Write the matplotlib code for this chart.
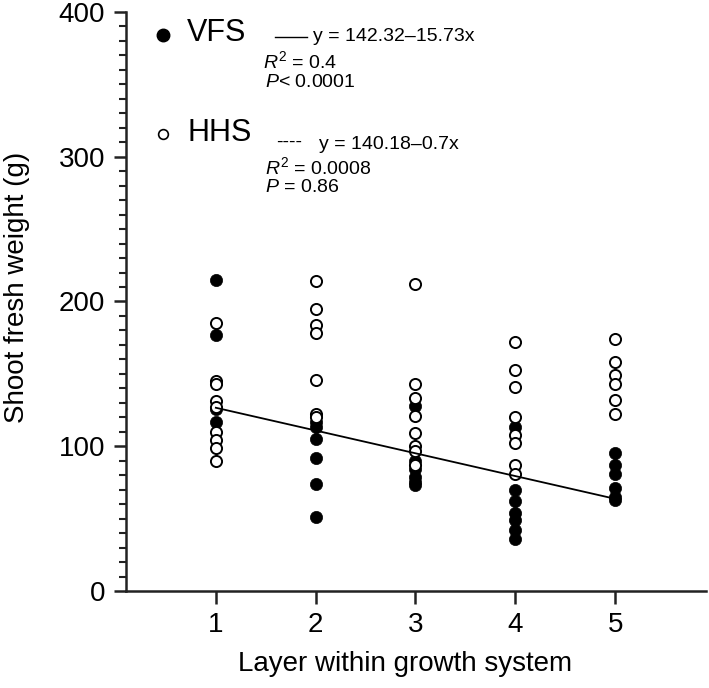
import numpy as np
import matplotlib.pyplot as plt
from matplotlib.ticker import MultipleLocator

plt.rcParams['font.family'] = ['Liberation Sans', 'DejaVu Sans']
plt.rcParams['mathtext.fontset'] = 'custom'
plt.rcParams['mathtext.rm'] = 'Liberation Sans'
plt.rcParams['mathtext.it'] = 'Liberation Sans:italic'

# данные: слой -> масса побегов (г)
layers = [1, 2, 3, 4, 5]
vfs_weights = [
    [215, 177, 126, 117],
    [117, 113, 105, 92, 74, 51],
    [128, 90, 84, 79, 75, 73],
    [113, 70, 62, 54, 49, 42, 36],
    [95, 87, 81, 71, 65, 63],
]
hhs_weights = [
    [185, 145, 143, 131, 127, 110, 104, 99, 90],
    [214, 195, 184, 178, 146, 122, 120],
    [212, 143, 133, 121, 109, 100, 97, 87],
    [172, 153, 141, 120, 108, 102, 87, 81],
    [174, 158, 149, 143, 132, 122],
]
vfs_fit = (142.32, -15.73)

fig = plt.figure(figsize=(7.09, 6.88), dpi=100)
ax = fig.add_axes([0.1777, 0.141, 0.818, 0.8416])

for lay, w in zip(layers, vfs_weights):
    ax.plot([lay] * len(w), w, 'o', ms=8.8, mfc='black', mec='black', mew=0.5, zorder=2)
for lay, w in zip(layers, hhs_weights):
    ax.plot([lay] * len(w), w, 'o', ms=8, mfc='white', mec='black', mew=1.4, zorder=3)

xf = np.array([layers[0], layers[-1]])
ax.plot(xf, vfs_fit[0] + vfs_fit[1] * xf, color='black', lw=1.3, zorder=4)

ax.set_xlim(0.1, 5.91)
ax.set_ylim(0, 400)
ax.set_xticks(layers)
ax.set_yticks([0, 100, 200, 300, 400])
ax.yaxis.set_minor_locator(MultipleLocator(10))
ax.spines['top'].set_visible(False)
ax.spines['right'].set_visible(False)
for s in ('left', 'bottom'):
    ax.spines[s].set_linewidth(1.8)
    ax.spines[s].set_color('#222222')
ax.tick_params(axis='both', which='major', labelsize=20, width=1.8, length=9, color='#222222', pad=6)
ax.tick_params(axis='y', which='minor', width=1.5, length=5, color='#222222')
ax.set_xlabel('Layer within growth system', fontsize=20)
ax.set_ylabel('Shoot fresh weight (g)', fontsize=20)
ax.xaxis.set_label_coords(0.481, -0.103)
ax.yaxis.set_label_coords(-0.166, 0.525)

# легенда и уравнения (координаты в данных)
ax.plot([0.47], [384], 'o', ms=9, mfc='black', mec='black', clip_on=False)
ax.text(0.71, 385.5, 'VFS', fontsize=22, va='center')
ax.plot([1.595, 1.915], [383, 383], color='black', lw=1.0)
ax.text(1.97, 383, 'y = 142.32–15.73x', fontsize=14, va='center')
ax.text(1.47, 366, '$R^2$ = 0.4', fontsize=14, va='center')
ax.text(1.49, 351.5, '$P$< 0.0001', fontsize=14, va='center')

ax.plot([0.47], [316], 'o', ms=7, mfc='white', mec='black', mew=1.2, clip_on=False)
ax.text(0.72, 316.5, 'HHS', fontsize=22, va='center')
ax.text(1.6, 310, '----', fontsize=14, va='center')
ax.text(2.03, 308.5, 'y = 140.18–0.7x', fontsize=14, va='center')
ax.text(1.49, 292.5, '$R^2$ = 0.0008', fontsize=14, va='center')
ax.text(1.49, 278.5, '$P$ = 0.86', fontsize=14, va='center')

plt.savefig('out.png', dpi=100)
